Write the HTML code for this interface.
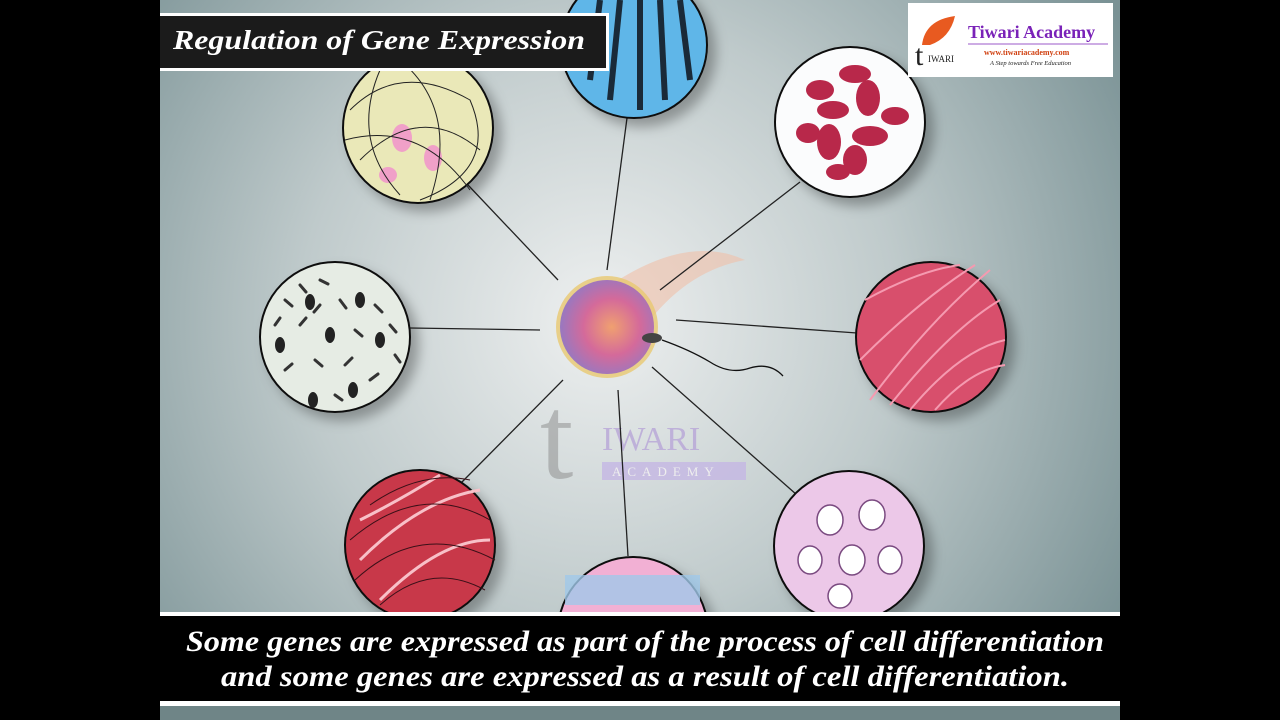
<!DOCTYPE html>
<html><head><meta charset="utf-8"><style>
html,body{margin:0;padding:0;background:#000;}
svg{display:block}
</style></head><body>
<svg width="1280" height="720" viewBox="0 0 1280 720" xmlns="http://www.w3.org/2000/svg">
<defs>
<radialGradient id="bg" cx="600" cy="320" r="600" gradientUnits="userSpaceOnUse">
<stop offset="0" stop-color="#eef0f0"/><stop offset="0.5" stop-color="#bfcacb"/><stop offset="1" stop-color="#7a9295"/>
</radialGradient>
<radialGradient id="egg" cx="0.55" cy="0.5" r="0.6">
<stop offset="0" stop-color="#f0a070"/><stop offset="0.5" stop-color="#d46a9a"/><stop offset="1" stop-color="#8c7bc8"/>
</radialGradient>
<filter id="sh"><feDropShadow dx="8" dy="8" stdDeviation="6" flood-color="#000" flood-opacity="0.3"/></filter>
</defs>
<rect x="0" y="0" width="1280" height="720" fill="#000"/>
<rect x="160" y="0" width="960" height="720" fill="url(#bg)"/>
<path d="M590 300 Q680 230 745 260 Q690 270 650 320 Z" fill="#f0c0a8" opacity="0.6"/>
<text x="540" y="478" font-family="Liberation Serif,serif" font-size="120" fill="#8a8a8a" opacity="0.5">t</text>
<text x="602" y="450" font-family="Liberation Serif,serif" font-size="34" fill="#b8a6d8" opacity="0.8">IWARI</text>
<rect x="602" y="462" width="144" height="18" fill="#c4b6e4" opacity="0.8"/>
<text x="612" y="476" font-family="Liberation Serif,serif" font-size="13" fill="#eee" letter-spacing="6">ACADEMY</text>
<g stroke="#222" stroke-width="1.3">
<line x1="607" y1="270" x2="627" y2="118"/>
<line x1="558" y1="280" x2="468" y2="185"/>
<line x1="660" y1="290" x2="800" y2="182"/>
<line x1="540" y1="330" x2="410" y2="328"/>
<line x1="676" y1="320" x2="857" y2="333"/>
<line x1="563" y1="380" x2="460" y2="484"/>
<line x1="618" y1="390" x2="628" y2="556"/>
<line x1="652" y1="367" x2="797" y2="495"/>
</g>
<circle cx="607" cy="327" r="51" fill="#e8c870" opacity="0.8"/>
<circle cx="607" cy="327" r="47" fill="url(#egg)"/>
<ellipse cx="652" cy="338" rx="10" ry="5" fill="#444"/>
<path d="M662 340 Q690 350 710 362 Q730 375 750 368 Q770 362 783 376" stroke="#111" stroke-width="1.3" fill="none"/>
<g stroke="#111" stroke-width="2" filter="url(#sh)">
<circle cx="634" cy="45" r="73" fill="#5fb6e8"/>
<circle cx="418" cy="128" r="75" fill="#eae8b8"/>
<circle cx="850" cy="122" r="75" fill="#fbfcfd"/>
<circle cx="335" cy="337" r="75" fill="#e6ece4"/>
<circle cx="931" cy="337" r="75" fill="#d8506c"/>
<circle cx="420" cy="545" r="75" fill="#c83848"/>
<circle cx="849" cy="546" r="75" fill="#ecc8e8"/>
<circle cx="633" cy="632" r="75" fill="#f2b0d4"/>
</g>
<g stroke="#1a2a38" stroke-width="6" fill="none">
<line x1="600" y1="0" x2="590" y2="80"/><line x1="620" y1="0" x2="610" y2="100"/><line x1="640" y1="0" x2="640" y2="110"/><line x1="660" y1="0" x2="665" y2="100"/><line x1="680" y1="0" x2="690" y2="80"/>
</g>
<g fill="#f0a0c8"><ellipse cx="402" cy="138" rx="10" ry="14"/><ellipse cx="433" cy="158" rx="9" ry="13"/><ellipse cx="388" cy="175" rx="9" ry="8"/></g>
<g stroke="#222" fill="none" stroke-width="1"><path d="M350 110 Q400 60 470 100 Q500 170 420 200"/><path d="M360 160 Q420 100 480 150"/><path d="M380 70 Q350 140 400 195"/><path d="M345 140 Q420 120 470 190"/><path d="M400 60 Q460 110 430 200"/></g>
<g fill="#b8284a">
<ellipse cx="855" cy="74" rx="16" ry="9"/><ellipse cx="820" cy="90" rx="14" ry="10"/><ellipse cx="868" cy="98" rx="12" ry="18"/><ellipse cx="833" cy="110" rx="16" ry="9"/><ellipse cx="895" cy="116" rx="14" ry="9"/><ellipse cx="808" cy="133" rx="12" ry="10"/><ellipse cx="829" cy="142" rx="12" ry="18"/><ellipse cx="870" cy="136" rx="18" ry="10"/><ellipse cx="855" cy="160" rx="12" ry="15"/><ellipse cx="838" cy="172" rx="12" ry="8"/></g>
<g stroke="#333" stroke-width="3" stroke-linecap="round">
<line x1="285" y1="300" x2="292" y2="306"/><line x1="300" y1="285" x2="306" y2="292"/><line x1="320" y1="280" x2="328" y2="284"/><line x1="340" y1="300" x2="346" y2="308"/><line x1="375" y1="305" x2="382" y2="312"/><line x1="390" y1="325" x2="396" y2="332"/><line x1="300" y1="325" x2="306" y2="318"/><line x1="285" y1="370" x2="292" y2="364"/><line x1="315" y1="360" x2="322" y2="366"/><line x1="345" y1="365" x2="352" y2="358"/><line x1="370" y1="380" x2="378" y2="374"/><line x1="335" y1="395" x2="342" y2="400"/><line x1="355" y1="330" x2="362" y2="336"/><line x1="275" y1="325" x2="280" y2="318"/><line x1="395" y1="355" x2="400" y2="362"/><line x1="320" y1="305" x2="314" y2="312"/>
</g>
<g fill="#222"><ellipse cx="310" cy="302" rx="5" ry="8"/><ellipse cx="360" cy="300" rx="5" ry="8"/><ellipse cx="330" cy="335" rx="5" ry="8"/><ellipse cx="380" cy="340" rx="5" ry="8"/><ellipse cx="280" cy="345" rx="5" ry="8"/><ellipse cx="313" cy="400" rx="5" ry="8"/><ellipse cx="353" cy="390" rx="5" ry="8"/></g>
<g stroke="#f59ab0" stroke-width="2" fill="none"><path d="M870 400 Q930 320 990 270"/><path d="M890 405 Q950 330 1000 300"/><path d="M865 300 Q920 270 960 265"/><path d="M910 410 Q960 350 1005 340"/><path d="M860 360 Q920 300 975 265"/><path d="M935 410 Q970 370 1005 365"/></g>
<g stroke="#f8c0c8" stroke-width="3" fill="none"><path d="M360 560 Q420 500 480 490"/><path d="M380 600 Q440 540 490 540"/><path d="M360 520 Q400 500 440 475"/></g>
<g stroke="#3a1018" stroke-width="1" fill="none"><path d="M350 540 Q420 480 490 520"/><path d="M355 580 Q420 520 495 560"/><path d="M370 505 Q420 470 470 480"/><path d="M380 605 Q430 560 485 590"/></g>
<g fill="#fff" stroke="#7a4a80" stroke-width="1.5"><ellipse cx="830" cy="520" rx="13" ry="15"/><ellipse cx="872" cy="515" rx="13" ry="15"/><ellipse cx="810" cy="560" rx="12" ry="14"/><ellipse cx="852" cy="560" rx="13" ry="15"/><ellipse cx="890" cy="560" rx="12" ry="14"/><ellipse cx="840" cy="596" rx="12" ry="12"/></g>
<rect x="565" y="575" width="135" height="30" fill="#a0c8e8" opacity="0.8"/>
<rect x="160" y="13" width="449" height="58" fill="#fff"/>
<rect x="160" y="16" width="446" height="52" fill="#1b1b1b"/>
<text x="173" y="49" font-family="Liberation Serif,serif" font-style="italic" font-weight="bold" font-size="27" fill="#fff" textLength="412" lengthAdjust="spacingAndGlyphs">Regulation of Gene Expression</text>
<rect x="908" y="3" width="205" height="74" fill="#fff"/>
<path d="M922 45 Q925 20 955 16 Q950 38 930 45 Z" fill="#e85a20"/>
<text x="915" y="65" font-family="Liberation Serif,serif" font-size="30" fill="#222">t</text>
<text x="928" y="62" font-family="Liberation Serif,serif" font-size="9" fill="#222">IWARI</text>
<text x="968" y="38" font-family="Liberation Serif,serif" font-weight="bold" font-size="18" fill="#7a22b8">Tiwari Academy</text>
<line x1="968" y1="44" x2="1108" y2="44" stroke="#7a22b8" stroke-width="0.8"/>
<text x="984" y="55" font-family="Liberation Serif,serif" font-weight="bold" font-size="8" fill="#d04010">www.tiwariacademy.com</text>
<text x="990" y="65" font-family="Liberation Serif,serif" font-style="italic" font-size="6.5" fill="#222">A Step towards Free Education</text>
<rect x="160" y="612" width="960" height="94" fill="#fff"/>
<rect x="160" y="616" width="960" height="85" fill="#000"/>
<text x="645" y="651" text-anchor="middle" font-family="Liberation Serif,serif" font-style="italic" font-weight="bold" font-size="30" fill="#fff" textLength="918" lengthAdjust="spacingAndGlyphs">Some genes are expressed as part of the process of cell differentiation</text>
<text x="645" y="686" text-anchor="middle" font-family="Liberation Serif,serif" font-style="italic" font-weight="bold" font-size="30" fill="#fff" textLength="848" lengthAdjust="spacingAndGlyphs">and some genes are expressed as a result of  cell differentiation.</text>
<rect x="160" y="706" width="960" height="14" fill="#6f8587"/>
</svg>
</body></html>
